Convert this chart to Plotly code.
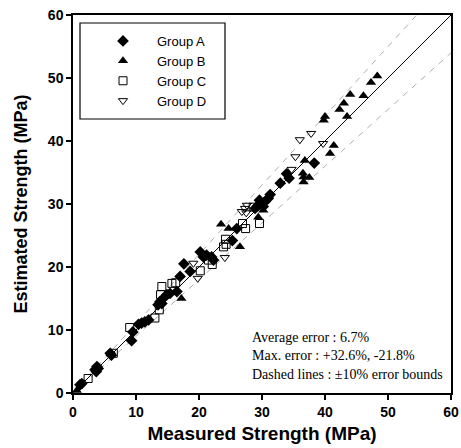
import plotly.graph_objects as go

# ---- data (MPa) ----
a_measured = [1.4, 1.1, 3.8, 4.0, 3.5, 3.7, 5.9, 6.1, 9.5, 9.3, 10.4, 10.9, 11.4, 12.0,
              13.5, 13.8, 14.1, 14.3, 14.9, 15.4, 16.5, 17.0, 18.6, 17.6, 20.2, 20.7,
              21.2, 22.0, 22.3, 25.3, 26.0, 28.9, 29.4, 29.9, 30.5, 31.0, 30.2, 29.6,
              31.3, 32.9, 33.9, 34.3, 38.3]
a_estimated = [1.5, 1.3, 4.2, 3.9, 3.7, 3.4, 6.3, 6.0, 9.7, 8.3, 10.9, 11.1, 11.3, 11.6,
               14.0, 14.5, 14.2, 15.0, 15.6, 15.8, 16.1, 18.5, 19.3, 20.5, 22.4, 21.6,
               21.9, 21.6, 21.1, 24.2, 26.1, 29.3, 29.8, 30.1, 30.4, 30.9, 29.6, 30.6,
               31.5, 33.3, 34.8, 34.1, 36.5]

b_measured = [0.6, 17.2, 23.5, 24.7, 26.5, 29.4, 30.2, 36.5, 36.6, 37.5, 36.6, 36.8,
              40.8, 41.4, 39.8, 40.0, 43.5, 42.3, 43.0, 44.0, 46.1, 47.3, 48.3]
b_estimated = [0.4, 15.0, 26.8, 26.1, 23.2, 27.9, 29.0, 34.9, 34.3, 34.2, 33.5, 36.9,
               38.0, 39.3, 43.3, 43.9, 43.9, 45.0, 46.0, 47.4, 47.2, 49.3, 50.3]

c_measured = [2.4, 6.4, 9.0, 13.0, 13.7, 13.9, 14.1, 15.7, 16.3, 20.2, 21.5, 22.1,
              24.2, 23.9, 24.3, 26.9, 27.4, 28.6, 29.6]
c_estimated = [2.3, 6.3, 10.4, 11.9, 13.2, 15.6, 16.9, 17.4, 17.5, 19.4, 21.1, 20.4,
               24.4, 23.2, 23.6, 26.9, 26.1, 29.5, 26.9]

d_measured = [19.1, 19.8, 24.1, 26.8, 27.3, 27.6, 27.5, 34.7, 35.3, 36.0, 37.8, 39.7]
d_estimated = [20.6, 18.2, 21.5, 28.8, 29.3, 29.8, 28.6, 35.5, 37.5, 40.2, 41.2, 39.6]

group_names = ["Group A", "Group B", "Group C", "Group D"]
line_x = [0, 60]
upper_bound_x = [0, 60 / 1.1]
lower_bound_x = [0, 60]
notes = ["Average error : 6.7%",
         "Max. error : +32.6%, -21.8%",
         "Dashed lines : \u00b110% error bounds"]

fig = go.Figure()

# reference lines
fig.add_trace(go.Scatter(x=line_x, y=line_x, mode="lines",
                         line=dict(color="black", width=1), showlegend=False, hoverinfo="skip"))
fig.add_trace(go.Scatter(x=upper_bound_x, y=[v * 1.1 for v in upper_bound_x], mode="lines",
                         line=dict(color="#999999", width=0.8, dash="6px,6px"),
                         showlegend=False, hoverinfo="skip"))
fig.add_trace(go.Scatter(x=lower_bound_x, y=[v * 0.9 for v in lower_bound_x], mode="lines",
                         line=dict(color="#999999", width=0.8, dash="6px,6px"),
                         showlegend=False, hoverinfo="skip"))

fig.add_trace(go.Scatter(x=a_measured, y=a_estimated, mode="markers", name=group_names[0],
                         marker=dict(symbol="diamond", size=9, color="black")))
fig.add_trace(go.Scatter(x=b_measured, y=b_estimated, mode="markers", name=group_names[1],
                         marker=dict(symbol="triangle-up", size=9, color="black")))
fig.add_trace(go.Scatter(x=c_measured, y=c_estimated, mode="markers", name=group_names[2],
                         marker=dict(symbol="square-open", size=8, color="black",
                                     line=dict(width=1))))
fig.add_trace(go.Scatter(x=d_measured, y=d_estimated, mode="markers", name=group_names[3],
                         marker=dict(symbol="triangle-down-open", size=8, color="black",
                                     line=dict(width=1))))

W, H = 461, 448
L, R, T, B = 73, 10, 15, 55
pw, ph = W - L - R, H - T - B


def px2paper_x(px):
    return (px - L) / pw


def px2paper_y(py):
    return (H - B - py) / ph


axis_common = dict(range=[0, 60], dtick=10, showgrid=False, zeroline=False,
                   automargin=False,
                   ticks="outside", ticklen=5, tickwidth=1.5, tickcolor="black",
                   showline=True, linecolor="black", linewidth=1.5, mirror=True,
                   tickfont=dict(family="Liberation Sans, Arial", size=14, color="black",
                                 weight="bold"))

fig.update_xaxes(**axis_common,
                 title=dict(text="Measured Strength (MPa)", standoff=8,
                            font=dict(family="Liberation Sans, Arial", size=19,
                                      color="black", weight="bold")))
fig.update_yaxes(**axis_common,
                 title=dict(text="Estimated Strength (MPa)", standoff=16,
                            font=dict(family="Liberation Sans, Arial", size=18,
                                      color="black", weight="bold")))

# legend frame
fig.add_shape(type="rect", xref="paper", yref="paper",
              x0=px2paper_x(80), x1=px2paper_x(225), y0=px2paper_y(119), y1=px2paper_y(23),
              line=dict(color="black", width=1.2), fillcolor="white", layer="below")

for i, t in enumerate(notes):
    fig.add_annotation(text=t, xref="paper", yref="paper", x=px2paper_x(250),
                       y=px2paper_y([337, 355, 374][i]), xanchor="left", yanchor="middle",
                       showarrow=False,
                       font=dict(family="Liberation Serif, Times New Roman", size=14,
                                 color="black"))

fig.update_layout(
    width=W, height=H,
    margin=dict(l=L, r=R, t=T, b=B),
    plot_bgcolor="white", paper_bgcolor="white",
    showlegend=True,
    legend=dict(x=px2paper_x(89), y=px2paper_y(26), xanchor="left", yanchor="top",
                bgcolor="rgba(0,0,0,0)", borderwidth=0, itemwidth=58,
                font=dict(family="Liberation Sans, Arial", size=13, color="black"),
                tracegroupgap=0),
)

fig.write_html("out.html")
